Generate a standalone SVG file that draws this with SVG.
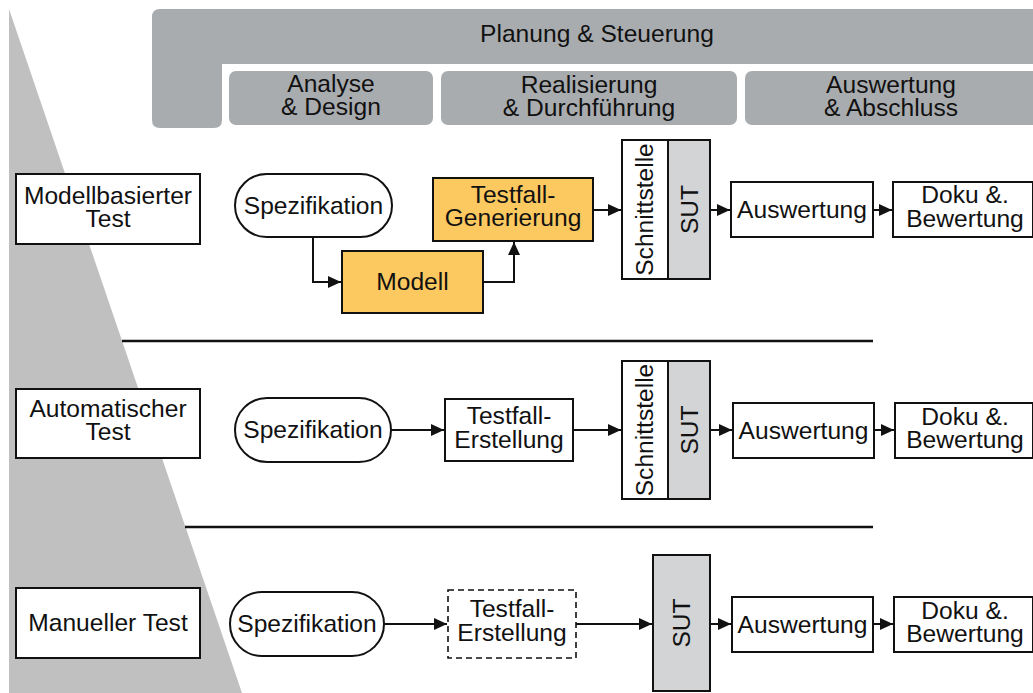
<svg xmlns="http://www.w3.org/2000/svg" width="1033" height="693" viewBox="0 0 1033 693">
<style>
text{font-family:"Liberation Sans",Arial,Helvetica,sans-serif;font-size:24.6px;fill:#111;text-anchor:middle}
.box{fill:#fff;stroke:#111;stroke-width:2}
.org{fill:#fcc960;stroke:#111;stroke-width:2}
.sut{fill:#d3d4d6;stroke:#111;stroke-width:2}
.dash{fill:#fff;stroke:#111;stroke-width:1.6;stroke-dasharray:6 4}
.hdr{fill:#a9acaf}
.sep{stroke:#111;stroke-width:2.5}
.con{fill:none;stroke:#111;stroke-width:2;marker-end:url(#ah)}
</style>
<defs>
<marker id="ah" markerUnits="userSpaceOnUse" markerWidth="13" markerHeight="12" refX="13" refY="6" orient="auto">
<path d="M0,0 L13,6 L0,12 Z" fill="#111"/>
</marker>
</defs>
<rect width="1033" height="693" fill="#fff"/>
<polygon points="9,9 9,693 242,693" fill="#c0c0c0"/>
<g id="planung">
<path class="hdr" d="M160,9 H1045 V64 H222 V120 Q222,128 214,128 H160 Q152,128 152,120 V17 Q152,9 160,9 Z"/>
<text x="597" y="42">Planung &amp; Steuerung</text>
</g>
<g id="phase-analyse">
<rect class="hdr" x="229" y="71" width="204" height="54" rx="7"/>
<text x="331" y="92">Analyse</text><text x="331" y="115">&amp; Design</text>
</g>
<g id="phase-realisierung">
<rect class="hdr" x="441" y="71" width="296" height="54" rx="7"/>
<text x="589" y="93">Realisierung</text><text x="589" y="116">&amp; Durchführung</text>
</g>
<g id="phase-auswertung">
<rect class="hdr" x="745" y="71" width="300" height="54" rx="7"/>
<text x="891" y="93">Auswertung</text><text x="891" y="116">&amp; Abschluss</text>
</g>
<g id="separators">
<line class="sep" x1="122" y1="341" x2="873" y2="341"/>
<line class="sep" x1="185" y1="527" x2="873" y2="527"/>
</g>
<!-- Row 1 -->
<g id="label-modell"><rect class="box" x="16" y="174" width="184" height="70"/><text x="108" y="204">Modellbasierter</text><text x="108" y="227">Test</text></g>
<g id="spez1"><rect class="box" x="235" y="174" width="157" height="63" rx="31.5"/><text x="313.5" y="214">Spezifikation</text></g>
<g id="modell"><rect class="org" x="342" y="251" width="141" height="62"/><text x="412.5" y="290">Modell</text></g>
<g id="tfgen"><rect class="org" x="433" y="178" width="160" height="63"/><text x="513" y="203">Testfall-</text><text x="513" y="226">Generierung</text></g>
<g id="schnitt1"><rect class="box" x="622" y="140" width="46" height="139"/><text transform="translate(653,209.5) rotate(-90)">Schnittstelle</text></g>
<g id="sut1"><rect class="sut" x="668" y="140" width="42" height="139"/><text transform="translate(697.5,209.5) rotate(-90)">SUT</text></g>
<g id="ausw1"><rect class="box" x="731" y="182" width="142" height="55"/><text x="802" y="218">Auswertung</text></g>
<g id="doku1"><rect class="box" x="893" y="182" width="140" height="55"/><text x="965" y="203">Doku &amp;.</text><text x="965" y="227">Bewertung</text></g>
<!-- Row 2 -->
<g id="label-auto"><rect class="box" x="16" y="389" width="184" height="69"/><text x="108" y="417">Automatischer</text><text x="108" y="440">Test</text></g>
<g id="spez2"><rect class="box" x="235" y="398" width="156" height="64" rx="32"/><text x="313" y="438">Spezifikation</text></g>
<g id="tferst2"><rect class="box" x="445" y="399" width="128" height="62"/><text x="509" y="424">Testfall-</text><text x="509" y="448">Erstellung</text></g>
<g id="schnitt2"><rect class="box" x="622" y="361" width="46" height="138"/><text transform="translate(653,430) rotate(-90)">Schnittstelle</text></g>
<g id="sut2"><rect class="sut" x="668" y="361" width="42" height="138"/><text transform="translate(697.5,430) rotate(-90)">SUT</text></g>
<g id="ausw2"><rect class="box" x="733" y="403" width="141" height="55"/><text x="803.5" y="439">Auswertung</text></g>
<g id="doku2"><rect class="box" x="895" y="403" width="138" height="55"/><text x="965" y="425">Doku &amp;.</text><text x="965" y="448">Bewertung</text></g>
<!-- Row 3 -->
<g id="label-manuell"><rect class="box" x="16" y="588" width="184" height="70"/><text x="108" y="631">Manueller Test</text></g>
<g id="spez3"><rect class="box" x="230" y="592" width="154" height="64" rx="32"/><text x="307" y="632">Spezifikation</text></g>
<g id="tferst3"><rect class="dash" x="448" y="590" width="128" height="68"/><text x="512" y="617">Testfall-</text><text x="512" y="641">Erstellung</text></g>
<g id="sut3"><rect class="sut" x="653" y="555" width="57" height="136"/><text transform="translate(690,623) rotate(-90)">SUT</text></g>
<g id="ausw3"><rect class="box" x="732" y="597" width="141" height="55"/><text x="802.5" y="633">Auswertung</text></g>
<g id="doku3"><rect class="box" x="894" y="597" width="139" height="55"/><text x="965" y="619">Doku &amp;.</text><text x="965" y="642">Bewertung</text></g>
<g id="connectors">
<path class="con" d="M313,237 V282 H341"/>
<path class="con" d="M483,282 H514 V242"/>
<path class="con" d="M593,210 H621"/>
<path class="con" d="M710,210 H730"/>
<path class="con" d="M873,210 H892"/>
<path class="con" d="M391,430 H444"/>
<path class="con" d="M573,430 H621"/>
<path class="con" d="M710,430 H732"/>
<path class="con" d="M874,430 H894"/>
<path class="con" d="M384,624 H447"/>
<path class="con" d="M576,624 H652"/>
<path class="con" d="M710,624 H731"/>
<path class="con" d="M873,624 H893"/>
</g>
</svg>
